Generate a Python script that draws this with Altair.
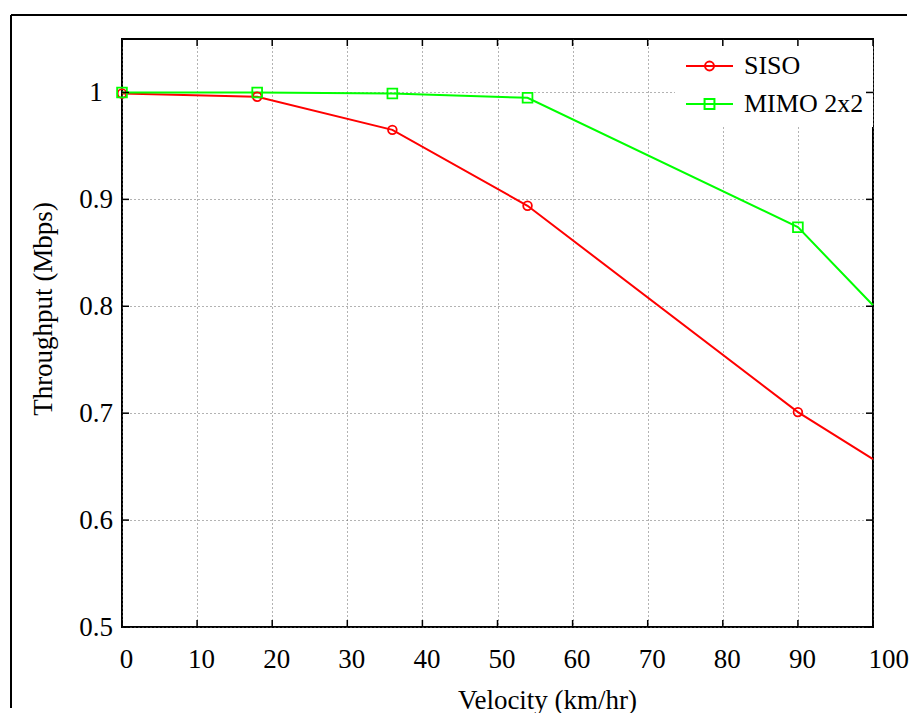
import altair as alt
import pandas as pd

# ---- data ----
velocity = [0, 18, 36, 54, 90, 100]
siso = [0.999, 0.996, 0.965, 0.894, 0.701, 0.657]
mimo = [1.000, 1.000, 0.999, 0.995, 0.874, 0.801]
series_names = ["SISO", "MIMO 2x2"]
series_colors = ["#ff0000", "#00ff00"]
series_shapes = ["circle", "square"]
series_marker_sizes = [75, 95]
x_ticks = [0, 10, 20, 30, 40, 50, 60, 70, 80, 90, 100]
y_ticks = [0.5, 0.6, 0.7, 0.8, 0.9, 1.0]

rows = []
for name, vals in zip(series_names, [siso, mimo]):
    for v, t in zip(velocity, vals):
        rows.append({"series": name, "velocity": v, "throughput": t})
df = pd.DataFrame(rows)
xt = pd.DataFrame({"velocity": x_ticks})
yt = pd.DataFrame({"throughput": y_ticks})
one = alt.Data(values=[{"a": 1}])

FONT = "Liberation Serif"
FS = 27
W, H = 751, 588

xscale = alt.Scale(domain=[0, 100], nice=False, zero=False)
yscale = alt.Scale(domain=[0.5, 1.05], nice=False, zero=False)
cscale = alt.Scale(domain=series_names, range=series_colors)

# legend symbols: a line with the marker on it
circle_path = "M-1,0H1M-0.19,0A0.19,0.19,0,1,1,0.19,0A0.19,0.19,0,1,1,-0.19,0Z"
square_path = "M-1,0H1M-0.21,-0.21H0.21V0.21H-0.21Z"
legend = alt.Legend(
    orient="none", legendX=563, legendY=2.5, title=None,
    labelFont=FONT, labelFontSize=26, labelColor="black",
    symbolSize=2209, symbolStrokeWidth=2, labelOffset=10,
    rowPadding=-8, padding=0, symbolOpacity=1,
    symbolFillColor="transparent",
)

x_axis = alt.Axis(
    values=x_ticks, grid=True, gridDash=[1, 3], gridColor="#666", gridWidth=1,
    domain=False, ticks=False, tickSize=0, labelFlush=False,
    labelAlign={"condition": {"test": "datum.value == 100", "value": "left"}, "value": "center"},
    labelOffset={"condition": {"test": "datum.value == 100", "value": -5}, "value": 4},
    labelPadding=19,
    title="Velocity (km/hr)", titleX=425, titleY=81, titleBaseline="alphabetic",
    titleAlign="center",
)
y_axis = alt.Axis(
    values=y_ticks, format="~g", grid=True, gridDash=[1, 3], gridColor="#666", gridWidth=1,
    domain=False, ticks=False, tickSize=0, labelFlush=False,
    labelAlign="center", labelBaseline="middle", labelPadding=26.5,
    title="Throughput (Mbps)", titleX=-71, titleY=269.5, titleBaseline="alphabetic",
    titleAlign="center", titleAngle=270,
)
X = alt.X("velocity:Q", scale=xscale, axis=x_axis)
Y = alt.Y("throughput:Q", scale=yscale, axis=y_axis)

legend_bg = alt.Chart(one).mark_rect(color="white").encode(
    x=alt.value(553), x2=alt.value(W), y=alt.value(1), y2=alt.value(88)
)

lines = alt.Chart(df).mark_line(strokeWidth=2).encode(
    x=X, y=Y,
    color=alt.Color("series:N", scale=cscale, legend=legend),
    detail="series:N",
)

point_layers = []
for name, shp, sz in zip(series_names, series_shapes, series_marker_sizes):
    point_layers.append(
        alt.Chart(df)
        .transform_filter(f"datum.velocity < 100 && datum.series == '{name}'")
        .mark_point(filled=False, strokeWidth=1.8, shape=shp, size=sz, opacity=1)
        .encode(x=X, y=Y, color=alt.Color("series:N", scale=cscale, legend=legend))
    )

legend_layer = alt.Chart(df).mark_point(filled=False, opacity=0).encode(
    x=X, y=Y,
    color=alt.Color("series:N", scale=cscale, legend=legend),
    shape=alt.Shape("series:N", scale=alt.Scale(domain=series_names, range=[circle_path, square_path]),
                    legend=legend),
)

tick_style = dict(color="black", strokeWidth=1.5)
xt_bottom = alt.Chart(xt).mark_rule(**tick_style).encode(
    x=X, y=alt.value(H), y2=alt.value(H - 7))
xt_top = alt.Chart(xt).mark_rule(**tick_style).encode(
    x=X, y=alt.value(0), y2=alt.value(7))
yt_left = alt.Chart(yt).mark_rule(**tick_style).encode(
    y=Y, x=alt.value(0), x2=alt.value(7))
yt_right = alt.Chart(yt).mark_rule(**tick_style).encode(
    y=Y, x=alt.value(W), x2=alt.value(W - 7))

frame_top = alt.Chart(one).mark_rule(color="black", strokeWidth=2).encode(
    x=alt.value(-111), x2=alt.value(785), y=alt.value(-24))
frame_left = alt.Chart(one).mark_rule(color="black", strokeWidth=2).encode(
    x=alt.value(-111), y=alt.value(-24), y2=alt.value(669))

chart = alt.layer(
    legend_bg, lines, *point_layers, legend_layer,
    xt_bottom, xt_top, yt_left, yt_right, frame_top, frame_left
).properties(
    width=W, height=H,
    padding={"left": 2, "top": 6, "right": 0, "bottom": 0},
).configure(
    font=FONT,
).configure_view(
    stroke="black", strokeWidth=2,
).configure_axis(
    labelFont=FONT, titleFont=FONT, labelFontSize=FS, titleFontSize=FS,
    titleFontWeight="normal", labelColor="black", titleColor="black",
)

chart.save("out.html", embed_options={"renderer": "svg", "actions": False})
